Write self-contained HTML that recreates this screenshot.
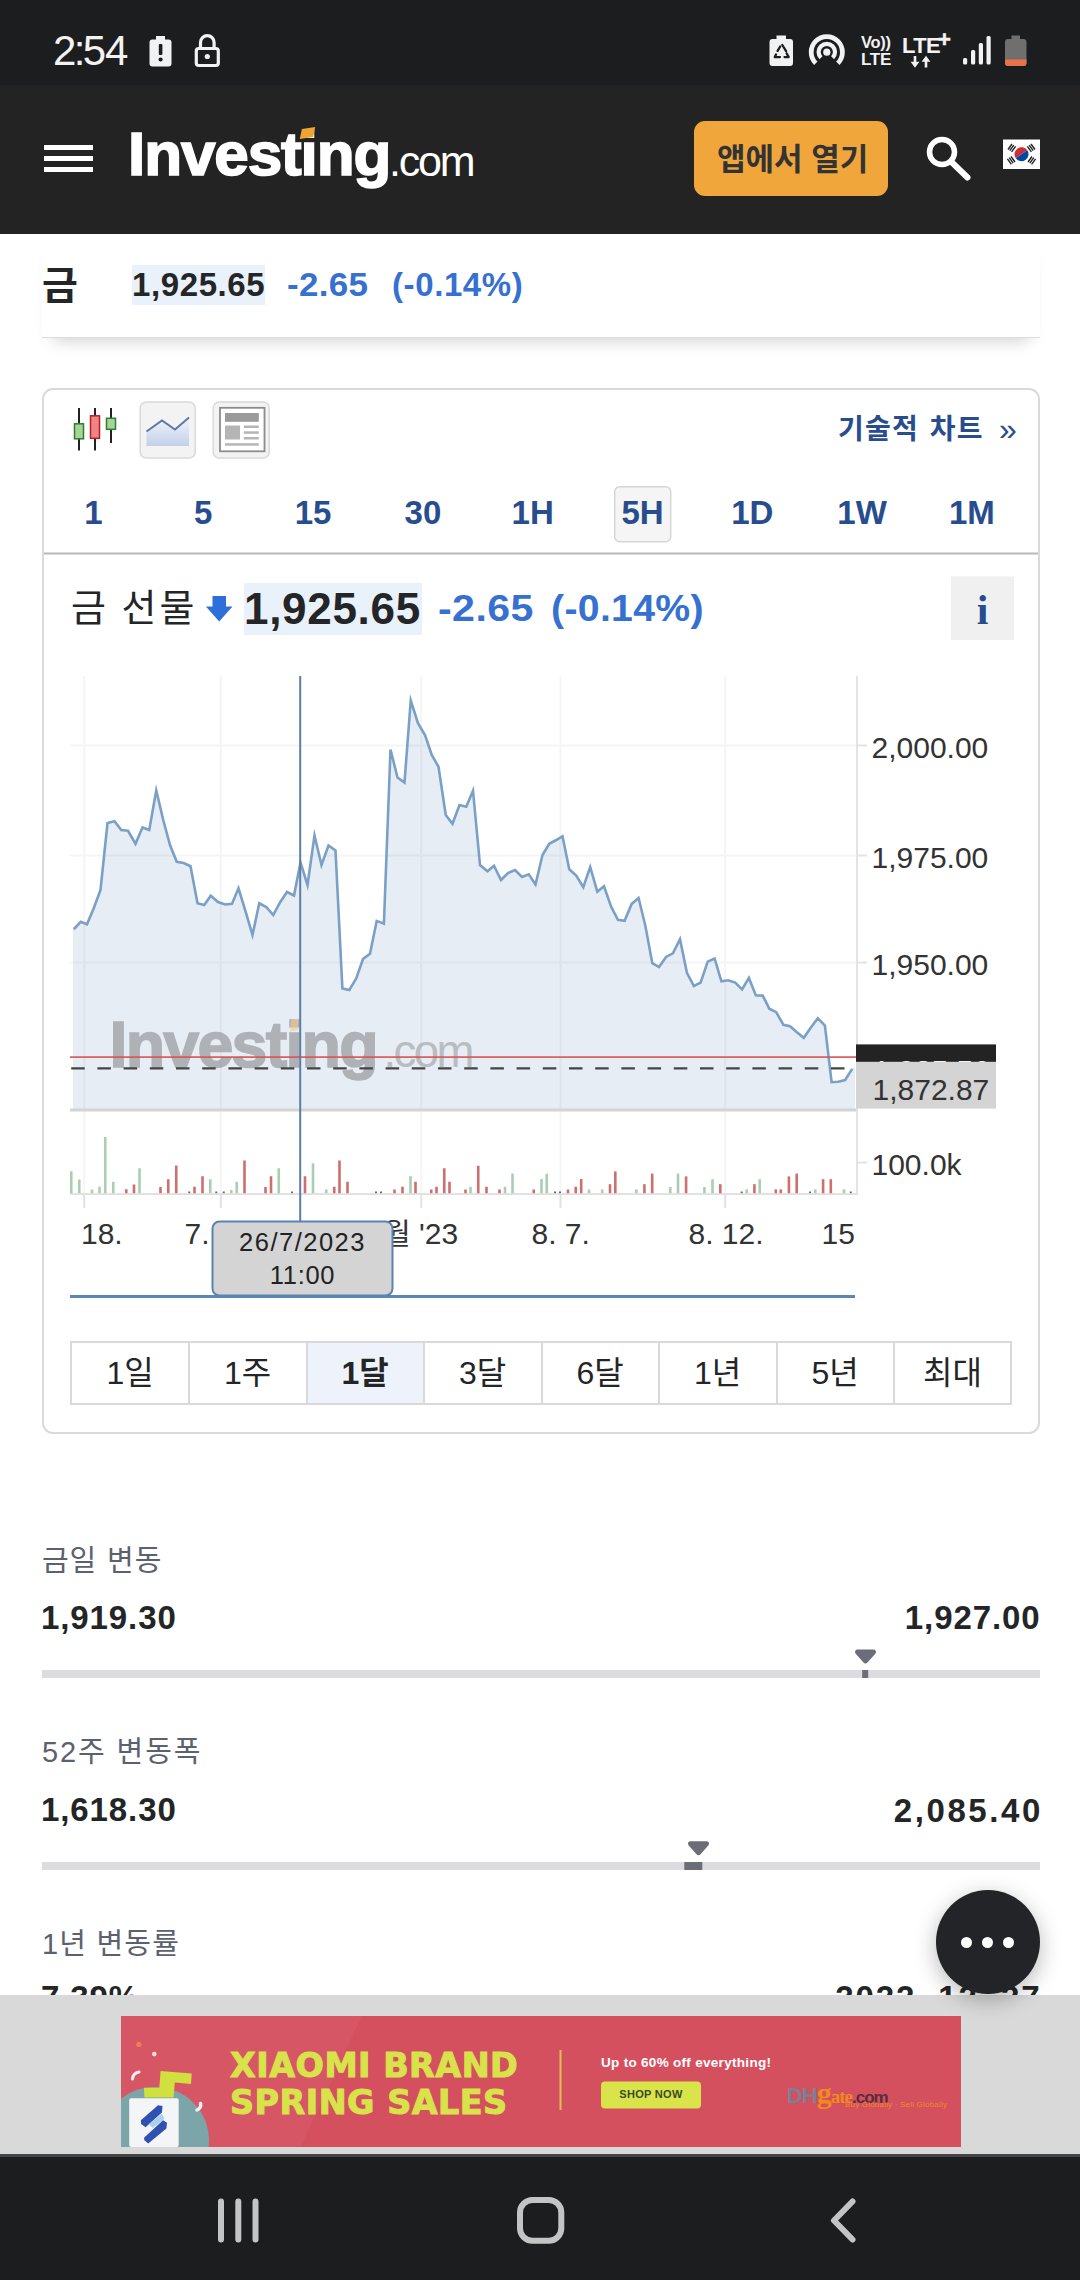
<!DOCTYPE html>
<html lang="ko">
<head>
<meta charset="utf-8">
<title>금 선물 - Investing.com</title>
<style>
*{box-sizing:border-box;margin:0;padding:0}
html,body{width:1080px;height:2280px;overflow:hidden;background:#fff}
body{position:relative;font-family:"Liberation Sans","Noto Sans CJK KR",sans-serif;color:#232526}
.abs{position:absolute}
.t{position:absolute;white-space:nowrap;line-height:1}
svg{position:absolute;left:0;top:0;overflow:visible}
#status{left:0;top:0;width:1080px;height:85px;background:#1c1d1f}
#header{left:0;top:85px;width:1080px;height:149px;background:#232323}
.bar{position:absolute;left:44px;width:49px;height:5px;background:#fff}
#openbtn{left:694px;top:121px;width:194px;height:75px;border-radius:11px;background:#f0a63b}
.blue{color:#3670d0}
.navy{color:#274d8f}
.b{font-weight:bold}
.tf{position:absolute;top:496px;width:80px;text-align:center;font-size:33px;font-weight:bold;color:#274d8f;line-height:1;white-space:nowrap}
.pd{position:absolute;top:1343px;height:60px;width:118px;text-align:center;font-size:32px;line-height:60px;color:#232526;white-space:nowrap}
.lbl{position:absolute;white-space:nowrap;line-height:1;font-size:29px;color:#5b616e;left:42px}
.val{position:absolute;white-space:nowrap;line-height:1;font-size:33px;font-weight:bold;color:#232526}
.rng{position:absolute;left:42px;width:998px;height:8px;background:#dcdcdf}
.cl{font-size:30px;fill:#333;font-family:"Liberation Sans","Noto Sans CJK KR",sans-serif}
</style>
</head>
<body>
<!-- STATUS BAR -->
<div id="status" class="abs"></div>
<div class="t" id="clock" style="left:53px;top:29.5px;font-size:42px;color:#f2f2f2;letter-spacing:-1px">2<span style="margin:0 -1.7px 0 -1.7px">:</span>54</div>
<svg width="1080" height="85" viewBox="0 0 1080 85">
  <!-- battery alert -->
  <path d="M156 36 h9 v3.5 h3.5 a3 3 0 0 1 3 3 v21 a3 3 0 0 1 -3 3 h-16 a3 3 0 0 1 -3 -3 v-21 a3 3 0 0 1 3 -3 h3.5 z" fill="#f2f2f2"/>
  <rect x="158.8" y="44" width="3.6" height="11" rx="1" fill="#1c1d1f"/>
  <circle cx="160.6" cy="59.5" r="2.1" fill="#1c1d1f"/>
  <!-- lock -->
  <path d="M200.5 48 v-5.5 a6.8 6.800 0 0 1 13.600 0 v5.5" fill="none" stroke="#f2f2f2" stroke-width="3.2"/>
  <rect x="196.300" y="48.500" width="22" height="17" rx="2.500" fill="none" stroke="#f2f2f2" stroke-width="3.200"/>
  <circle cx="207.300" cy="56.500" r="2.600" fill="#f2f2f2"/>
  <!-- battery recycle -->
  <path d="M776.500 35.500 h9.500 v3.500 h4 a3 3 0 0 1 3 3 v21 a3 3 0 0 1 -3 3 h-17.500 a3 3 0 0 1 -3 -3 v-21 a3 3 0 0 1 3 -3 h4 z" fill="#f2f2f2"/>
  <path d="M780.200 46.500 l-2.600 4.400 M782.300 45 l3.800 6.200 M776 54.500 l-1.200 2.600 h5.200 M784.500 57.100 h4.200 l-2 -3.600" fill="none" stroke="#1c1d1f" stroke-width="2.300" stroke-linejoin="round" stroke-linecap="round"/>
  <!-- hotspot -->
  <path d="M815.800 63.200 a15.600 15.600 0 1 1 22 0" fill="none" stroke="#f2f2f2" stroke-width="4.800"/>
  <path d="M821 57.800 a8.200 8.200 0 1 1 11.600 0" fill="none" stroke="#f2f2f2" stroke-width="4.200"/>
  <circle cx="826.800" cy="52.200" r="3.600" fill="#f2f2f2"/>
  <!-- signal -->
  <rect x="963" y="58" width="4.200" height="6.500" rx="1.500" fill="#f2f2f2"/>
  <rect x="971" y="50" width="4.200" height="14.500" rx="1.500" fill="#f2f2f2"/>
  <rect x="978.800" y="43" width="4.200" height="21.500" rx="1.500" fill="#f2f2f2"/>
  <rect x="986.500" y="36" width="4.200" height="28.500" rx="1.500" fill="#f2f2f2"/>
  <!-- battery -->
  <path d="M1011.500 35.500 h8.500 v3.500 h3.500 a3 3 0 0 1 3 3 v21 a3 3 0 0 1 -3 3 h-15.500 a3 3 0 0 1 -3 -3 v-21 a3 3 0 0 1 3 -3 h3.500 z" fill="#6f6f6f"/>
  <path d="M1005 59.500 h21.500 v3.500 a3 3 0 0 1 -3 3 h-15.500 a3 3 0 0 1 -3 -3 z" fill="#e8734a"/>
  <!-- LTE arrows -->
  <path d="M913.700 56 h2.600 v5.800 h3.100 l-4.400 5.900 l-4.400 -5.900 h3.100 z" fill="#f2f2f2"/>
  <path d="M924.700 67.500 h2.600 v-5.800 h3.100 l-4.400 -5.900 l-4.400 5.900 h3.100 z" fill="#f2f2f2"/>
</svg>
<div class="t b" style="left:861px;top:34px;font-size:16.500px;color:#f2f2f2;letter-spacing:-0.3px">Vo))</div>
<div class="t b" style="left:861px;top:51px;font-size:17px;color:#f2f2f2;letter-spacing:-0.3px">LTE</div>
<div class="t b" style="left:902px;top:35px;font-size:22px;color:#f2f2f2;letter-spacing:-0.6px">LTE</div>
<div class="t b" style="left:938px;top:29px;font-size:22px;color:#f2f2f2;-webkit-text-stroke:0.6px #f2f2f2">+</div>

<!-- HEADER -->
<div id="header" class="abs"></div>
<div class="bar" style="top:145px"></div>
<div class="bar" style="top:156px"></div>
<div class="bar" style="top:167px"></div>
<div class="t b" id="logo1" style="left:128px;top:123px;font-size:62px;color:#fff;letter-spacing:-1.1px;-webkit-text-stroke:1.7px #fff">Investing</div>
<div class="abs" style="left:301px;top:128px;width:13px;height:10px;background:#f0a533;transform:skewX(-12deg) skewY(-8deg)"></div>
<div class="t" id="logo2" style="left:389px;top:140px;font-size:43px;color:#fff;letter-spacing:-2.2px">.com</div>
<div class="abs" id="openbtn"></div>
<div class="t b" id="opentxt" style="left:717px;top:144px;font-size:31px;color:#333">앱에서 열기</div>
<svg width="1080" height="240" viewBox="0 0 1080 240">
  <circle cx="942" cy="152" r="12.500" fill="none" stroke="#fff" stroke-width="5.500"/>
  <path d="M951 161.500 L967.500 177.500" stroke="#fff" stroke-width="6" stroke-linecap="round"/>
  <!-- KR flag -->
  <rect x="1003" y="139.500" width="37" height="29.500" fill="#fff"/>
  <path d="M1014.500 154.200 a7 7 0 0 1 14 0 z" fill="#cd2e3a" transform="rotate(-34 1021.500 154.200)"/>
  <path d="M1014.500 154.200 a7 7 0 0 0 14 0 z" fill="#0047a0" transform="rotate(-34 1021.500 154.200)"/>
  <g stroke="#222" stroke-width="1.400">
    <path d="M1008 149.500 l4 -5.500 M1009.800 150.700 l4 -5.500 M1011.600 151.900 l4 -5.500"/>
    <path d="M1028 162 l4 -5.500 M1029.800 163.200 l4 -5.500 M1031.600 164.400 l4 -5.500"/>
    <path d="M1031 144 l4 5.500 M1029.200 145.200 l4 5.500 M1027.400 146.400 l4 5.500"/>
    <path d="M1011 156.500 l4 5.500 M1009.200 157.700 l4 5.500 M1007.400 158.900 l4 5.500"/>
  </g>
</svg>
<!-- INSTRUMENT ROW -->
<div class="abs" style="left:42px;top:234px;width:998px;height:104px;background:#fff;box-shadow:0 13px 16px -11px rgba(0,0,0,0.2);border-bottom:1.5px solid #dcdcdc"></div>
<div class="t b" id="gold" style="left:42px;top:266px;font-size:39px;color:#232526">금</div>
<div class="abs" style="left:132px;top:265px;width:133px;height:40px;background:#e9f1fb"></div>
<div class="t b" id="p1" style="left:132px;top:268px;font-size:33px;letter-spacing:0.6px">1,925.65</div>
<div class="t b blue" id="p2" style="left:287px;top:268px;font-size:33px;letter-spacing:0.3px;transform-origin:0 0;transform:scaleX(1.06)">-2.65</div>
<div class="t b blue" id="p3" style="left:392px;top:268px;font-size:33px;letter-spacing:0.6px">(-0.14%)</div>

<!-- CHART CARD -->
<div class="abs" id="card" style="left:42px;top:388px;width:998px;height:1046px;border:2px solid #dadada;border-radius:11px;background:#fff"></div>
<svg width="1080" height="700" viewBox="0 0 1080 700">
  <!-- candles icon -->
  <g stroke-width="1.500">
    <path d="M79 408 V450.500 M95 408 V450.500 M111 408 V443" stroke="#222" stroke-width="2" fill="none"/>
    <rect x="74.500" y="423.800" width="9" height="15" fill="#a5d696" stroke="#2f7d32"/>
    <rect x="90.500" y="415.800" width="9" height="22.500" fill="#f08383" stroke="#b32222"/>
    <rect x="106.500" y="418.300" width="9" height="11" fill="#a5d696" stroke="#2f7d32"/>
  </g>
  <!-- area icon btn -->
  <rect x="140.200" y="402" width="55" height="56" rx="6" fill="#f3f3f3" stroke="#d9d9d9" stroke-width="1.500"/>
  <defs><linearGradient id="ag" x1="0" y1="0" x2="0" y2="1"><stop offset="0" stop-color="#f1f4fb"/><stop offset="1" stop-color="#c3d0e8"/></linearGradient></defs>
  <path d="M146.500 431.500 L162 420.500 L175 429.500 L189 417.500 V446 H146.500 Z" fill="url(#ag)"/>
  <path d="M146.500 431.500 L162 420.500 L175 429.500 L189 417.500" fill="none" stroke="#5b7aa6" stroke-width="2"/>
  <!-- table icon btn -->
  <rect x="213.200" y="402" width="56" height="56" rx="6" fill="#f3f3f3" stroke="#d9d9d9" stroke-width="1.500"/>
  <rect x="220" y="407.800" width="44.500" height="43.500" fill="#fff" stroke="#8c8c8c" stroke-width="1.800"/>
  <rect x="225" y="413" width="33.800" height="8.800" fill="#9a9a9a"/>
  <rect x="225" y="425.500" width="15" height="14" fill="#b5b5b5"/>
  <rect x="243.800" y="425.500" width="15" height="2.500" fill="#b5b5b5"/>
  <rect x="243.800" y="431.300" width="15" height="2.500" fill="#b5b5b5"/>
  <rect x="243.800" y="437" width="15" height="2.500" fill="#b5b5b5"/>
  <rect x="225" y="443.200" width="33.800" height="2.500" fill="#b5b5b5"/>
  <!-- 5H selected box -->
  <rect x="614.700" y="486.700" width="56" height="55" rx="5" fill="#f5f5f5" stroke="#d6d6d6" stroke-width="1.500"/>
  <!-- separator -->
  <rect x="44" y="552.500" width="994" height="2" fill="#b9b9b9"/>
  <!-- info box -->
  <rect x="951" y="576.500" width="63" height="63.500" fill="#f0f0f0"/>
  <!-- down arrow -->
  <path d="M212.500 596 h13.500 v10.500 h6.500 l-13.300 15 l-13.300 -15 h6.600 z" fill="#2f6fd9"/>
</svg>
<div class="t b navy" id="tech" style="left:838px;top:416px;font-size:28px;letter-spacing:1.2px;word-spacing:2px">기술적 차트</div>
<div class="t navy" id="raquo" style="left:999px;top:413px;font-size:32px">»</div>
<div class="tf" style="left:53.500px">1</div>
<div class="tf" style="left:163.300px">5</div>
<div class="tf" style="left:273.100px">15</div>
<div class="tf" style="left:382.900px">30</div>
<div class="tf" style="left:492.700px">1H</div>
<div class="tf" style="left:602.500px">5H</div>
<div class="tf" style="left:712.300px">1D</div>
<div class="tf" style="left:822.100px">1W</div>
<div class="tf" style="left:931.900px">1M</div>

<div class="t" id="fut" style="left:71px;top:589px;font-size:38px;color:#232526;word-spacing:-1px;letter-spacing:3px">금 선물</div>
<div class="abs" style="left:244px;top:582.500px;width:177.500px;height:52.500px;background:#e9f1fb"></div>
<div class="t b" id="q1" style="left:244px;top:587px;font-size:44px;letter-spacing:0.7px">1,925.65</div>
<div class="t b blue" id="q2" style="left:438px;top:590px;font-size:37px;letter-spacing:0.4px;transform-origin:0 0;transform:scaleX(1.11)">-2.65</div>
<div class="t b blue" id="q3" style="left:551px;top:590px;font-size:37px;letter-spacing:0.3px;transform-origin:0 0;transform:scaleX(1.06)">(-0.14%)</div>
<div class="t b navy" id="info" style="left:951px;width:63px;text-align:center;top:589px;font-size:42px;font-family:'Liberation Serif','Noto Serif CJK KR',serif">i</div>
<!-- CHART -->
<svg width="1080" height="1320" viewBox="0 0 1080 1320">
<g fill="#f5f5f5">
<rect x="83.25" y="676" width="2" height="518"/>
<rect x="219.75" y="676" width="2" height="518"/>
<rect x="420.25" y="676" width="2" height="518"/>
<rect x="559.5" y="676" width="2" height="518"/>
<rect x="724.2" y="676" width="2" height="518"/>
<rect x="70" y="744.5" width="786" height="2"/>
<rect x="70" y="854.5" width="786" height="2"/>
<rect x="70" y="961.6" width="786" height="2"/>
</g>
<path d="M73,1109 L73,929.25 L73.75,929.25 L80.75,921.75 L87,924.25 L93.75,908.25 L100.5,890 L107.5,823 L114.5,821.25 L121.25,830 L128,830.75 L135.5,843.75 L142.5,827.5 L149.25,830 L156.25,790.5 L163.25,820 L170,845 L176.75,861.75 L183.75,863 L190.5,866.25 L197.5,903.25 L204.25,905 L210.75,895.75 L218,902 L225,904.5 L232,903.75 L238.5,888.25 L245.5,911.25 L252.5,935 L259.25,903.25 L266.25,907 L273.25,915 L280,902.5 L287,892 L294,895.5 L300.5,862.5 L307.5,885 L314.5,835.5 L321.5,865 L328.5,845.5 L335.5,850.5 L342.4,988.5 L349.3,990 L356.3,978.3 L363.1,958.9 L370,953.7 L376.7,920.9 L383.9,923.7 L390.5,749.5 L397.5,777.5 L404.5,782.5 L410.75,700.5 L418,723.25 L425,735 L431.75,755 L438.5,766.75 L445.75,815 L452.5,823.75 L459.5,805 L466.25,806.75 L473,790.75 L480,865 L487.5,871.25 L494,865.75 L501,880 L508,873 L515,870 L522,877 L528.75,874.25 L535.5,884.5 L542.5,855 L549.25,843.75 L556.25,840 L562.5,836.25 L569.25,869.25 L576.25,875.5 L583.3,887.1 L590.2,867 L597.3,891.7 L604,886.2 L611.1,906.6 L617.9,919.8 L624.6,920.8 L631.7,903.9 L638.6,898 L645.4,925.9 L652.3,963.2 L659,967.1 L666.1,956.9 L672.9,953.4 L680,939.2 L686.9,972.8 L693.9,986 L700.6,982.6 L707.7,961.6 L714.6,958.5 L721.4,981.3 L728.3,980.3 L735.2,982.6 L742.1,989.5 L748.9,977.9 L755.8,995.2 L762.7,995.6 L769.3,1008.7 L776.2,1012.2 L783.4,1024.8 L790,1026.2 L796.9,1032.2 L803.8,1037.8 L810.7,1027.8 L817.8,1018.2 L824.9,1025.6 L831.6,1082.2 L838.2,1081.8 L845.1,1080 L852.2,1068.9 L855,1066 L855,1109 Z" fill="rgb(88,135,188)" fill-opacity="0.15"/>
<g fill="#dfe7f0" opacity="0.6">
</g>
<polyline points="73.75,929.25 80.75,921.75 87,924.25 93.75,908.25 100.5,890 107.5,823 114.5,821.25 121.25,830 128,830.75 135.5,843.75 142.5,827.5 149.25,830 156.25,790.5 163.25,820 170,845 176.75,861.75 183.75,863 190.5,866.25 197.5,903.25 204.25,905 210.75,895.75 218,902 225,904.5 232,903.75 238.5,888.25 245.5,911.25 252.5,935 259.25,903.25 266.25,907 273.25,915 280,902.5 287,892 294,895.5 300.5,862.5 307.5,885 314.5,835.5 321.5,865 328.5,845.5 335.5,850.5 342.4,988.5 349.3,990 356.3,978.3 363.1,958.9 370,953.7 376.7,920.9 383.9,923.7 390.5,749.5 397.5,777.5 404.5,782.5 410.75,700.5 418,723.25 425,735 431.75,755 438.5,766.75 445.75,815 452.5,823.75 459.5,805 466.25,806.75 473,790.75 480,865 487.5,871.25 494,865.75 501,880 508,873 515,870 522,877 528.75,874.25 535.5,884.5 542.5,855 549.25,843.75 556.25,840 562.5,836.25 569.25,869.25 576.25,875.5 583.3,887.1 590.2,867 597.3,891.7 604,886.2 611.1,906.6 617.9,919.8 624.6,920.8 631.7,903.9 638.6,898 645.4,925.9 652.3,963.2 659,967.1 666.1,956.9 672.9,953.4 680,939.2 686.9,972.8 693.9,986 700.6,982.6 707.7,961.6 714.6,958.5 721.4,981.3 728.3,980.3 735.2,982.6 742.1,989.5 748.9,977.9 755.8,995.2 762.7,995.6 769.3,1008.7 776.2,1012.2 783.4,1024.8 790,1026.2 796.9,1032.2 803.8,1037.8 810.7,1027.8 817.8,1018.2 824.9,1025.6 831.6,1082.2 838.2,1081.8 845.1,1080 852.2,1068.9" fill="none" stroke="#7ba0c6" stroke-width="2.6" stroke-linejoin="miter" stroke-miterlimit="6"/>
<g opacity="0.5" fill="#787878" stroke="#787878" font-family="'Liberation Sans',sans-serif">
<text x="109.5" y="1067.4" font-size="64.5" font-weight="bold" letter-spacing="-1.75" stroke-width="1.6">Investing</text>
<text x="383.5" y="1067.4" font-size="45.6" letter-spacing="-2.6" stroke-width="0" opacity="0.8">.com</text>
</g>
<path d="M291 1020 L298.5 1018.5 L298 1030 L290 1031.5 Z" fill="#f3c98c" opacity="0.6"/>
<rect x="70" y="1056.3" width="786" height="1.6" fill="#d9534f"/>
<path d="M71.2 1068.4 H856" stroke="#444" stroke-width="2.4" stroke-dasharray="13.5 12.7"/>
<rect x="70" y="1108.5" width="787" height="3" fill="#d4d4d4"/>
<rect x="856" y="676" width="2" height="518" fill="#e3e3e3"/>
<rect x="858" y="744.5" width="9" height="2" fill="#e3e3e3"/>
<rect x="858" y="854.5" width="9" height="2" fill="#e3e3e3"/>
<rect x="858" y="961.6" width="9" height="2" fill="#e3e3e3"/>
<rect x="858" y="1161.5" width="9" height="2" fill="#e3e3e3"/>
<rect x="70" y="1193" width="788" height="2" fill="#e2e2e2"/>
<rect x="83.25" y="1194" width="2" height="14" fill="#e2e2e2"/>
<rect x="219.75" y="1194" width="2" height="14" fill="#e2e2e2"/>
<rect x="420.25" y="1194" width="2" height="14" fill="#e2e2e2"/>
<rect x="559.5" y="1194" width="2" height="14" fill="#e2e2e2"/>
<rect x="724.2" y="1194" width="2" height="14" fill="#e2e2e2"/>
<rect x="69.95" y="1171.25" width="2.6" height="21.95" fill="#a9cfb0"/>
<rect x="77.95" y="1179.5" width="2.6" height="13.7" fill="#a9cfb0"/>
<rect x="90.7" y="1189.5" width="2.6" height="3.7" fill="#a9cfb0"/>
<rect x="98.2" y="1186.75" width="2.6" height="6.45" fill="#a9cfb0"/>
<rect x="103.95" y="1137" width="2.6" height="56.2" fill="#a9cfb0"/>
<rect x="111.95" y="1181.75" width="2.6" height="11.45" fill="#a9cfb0"/>
<rect x="124.95" y="1189.25" width="2.6" height="3.95" fill="#cf6e6e"/>
<rect x="132.7" y="1184.5" width="2.6" height="8.7" fill="#cf6e6e"/>
<rect x="138.2" y="1168.25" width="2.6" height="24.95" fill="#a9cfb0"/>
<rect x="159.2" y="1187" width="2.6" height="6.2" fill="#cf6e6e"/>
<rect x="166.95" y="1179.25" width="2.6" height="13.95" fill="#cf6e6e"/>
<rect x="174.95" y="1165.5" width="2.6" height="27.7" fill="#cf6e6e"/>
<rect x="188.25" y="1191.5" width="2" height="1.6" fill="#666"/>
<rect x="193.2" y="1186.75" width="2.6" height="6.45" fill="#cf6e6e"/>
<rect x="201.2" y="1176.25" width="2.6" height="16.95" fill="#cf6e6e"/>
<rect x="208.95" y="1179.25" width="2.6" height="13.95" fill="#a9cfb0"/>
<rect x="215.25" y="1191.5" width="2" height="1.6" fill="#666"/>
<rect x="222.75" y="1191.5" width="2" height="1.6" fill="#666"/>
<rect x="229.95" y="1190" width="2.6" height="3.2" fill="#a9cfb0"/>
<rect x="235.45" y="1181.75" width="2.6" height="11.45" fill="#a9cfb0"/>
<rect x="243.2" y="1160.5" width="2.6" height="32.7" fill="#cf6e6e"/>
<rect x="264.2" y="1187" width="2.6" height="6.2" fill="#cf6e6e"/>
<rect x="269.7" y="1176.25" width="2.6" height="16.95" fill="#cf6e6e"/>
<rect x="277.45" y="1168.25" width="2.6" height="24.95" fill="#a9cfb0"/>
<rect x="291" y="1191.5" width="2" height="1.6" fill="#666"/>
<rect x="303.7" y="1176.25" width="2.6" height="16.95" fill="#cf6e6e"/>
<rect x="311.7" y="1163.25" width="2.6" height="29.95" fill="#a9cfb0"/>
<rect x="324.95" y="1189.5" width="2.6" height="3.7" fill="#a9cfb0"/>
<rect x="332.95" y="1186.75" width="2.6" height="6.45" fill="#cf6e6e"/>
<rect x="338.2" y="1160.5" width="2.6" height="32.7" fill="#cf6e6e"/>
<rect x="346.2" y="1181.75" width="2.6" height="11.45" fill="#cf6e6e"/>
<rect x="375" y="1191.5" width="2" height="1.6" fill="#666"/>
<rect x="380" y="1191.5" width="2" height="1.6" fill="#666"/>
<rect x="393.2" y="1189.5" width="2.6" height="3.7" fill="#cf6e6e"/>
<rect x="401.2" y="1186.75" width="2.6" height="6.45" fill="#cf6e6e"/>
<rect x="409.2" y="1176.25" width="2.6" height="16.95" fill="#a9cfb0"/>
<rect x="414.2" y="1181.75" width="2.6" height="11.45" fill="#cf6e6e"/>
<rect x="429.95" y="1189.5" width="2.6" height="3.7" fill="#cf6e6e"/>
<rect x="435.2" y="1186.75" width="2.6" height="6.45" fill="#cf6e6e"/>
<rect x="442.95" y="1168.25" width="2.6" height="24.95" fill="#cf6e6e"/>
<rect x="448.2" y="1181.75" width="2.6" height="11.45" fill="#cf6e6e"/>
<rect x="464.2" y="1189.5" width="2.6" height="3.7" fill="#cf6e6e"/>
<rect x="469.2" y="1186.75" width="2.6" height="6.45" fill="#a9cfb0"/>
<rect x="476.95" y="1165.75" width="2.6" height="27.45" fill="#cf6e6e"/>
<rect x="485.2" y="1186.75" width="2.6" height="6.45" fill="#cf6e6e"/>
<rect x="498.2" y="1189.5" width="2.6" height="3.7" fill="#cf6e6e"/>
<rect x="503.7" y="1186.75" width="2.6" height="6.45" fill="#a9cfb0"/>
<rect x="511.2" y="1173.5" width="2.6" height="19.7" fill="#a9cfb0"/>
<rect x="532.45" y="1189.5" width="2.6" height="3.7" fill="#cf6e6e"/>
<rect x="540.2" y="1179" width="2.6" height="14.2" fill="#a9cfb0"/>
<rect x="545.45" y="1173.75" width="2.6" height="19.45" fill="#a9cfb0"/>
<rect x="554" y="1191.5" width="2" height="1.6" fill="#666"/>
<rect x="559" y="1191.5" width="2" height="1.6" fill="#666"/>
<rect x="566.7" y="1189.5" width="2.6" height="3.7" fill="#cf6e6e"/>
<rect x="574.45" y="1186.75" width="2.6" height="6.45" fill="#cf6e6e"/>
<rect x="579.9" y="1179" width="2.6" height="14.2" fill="#cf6e6e"/>
<rect x="587.7" y="1189.5" width="2.6" height="3.7" fill="#a9cfb0"/>
<rect x="600.9" y="1189.4" width="2.6" height="3.8" fill="#a9cfb0"/>
<rect x="608.7" y="1184.2" width="2.6" height="9" fill="#cf6e6e"/>
<rect x="614" y="1171.4" width="2.6" height="21.8" fill="#cf6e6e"/>
<rect x="635.1" y="1189.4" width="2.6" height="3.8" fill="#a9cfb0"/>
<rect x="643.1" y="1184.2" width="2.6" height="9" fill="#cf6e6e"/>
<rect x="650.9" y="1173.6" width="2.6" height="19.6" fill="#cf6e6e"/>
<rect x="669" y="1187" width="2.6" height="6.2" fill="#a9cfb0"/>
<rect x="676.7" y="1173.6" width="2.6" height="19.6" fill="#a9cfb0"/>
<rect x="684.8" y="1176.4" width="2.6" height="16.8" fill="#cf6e6e"/>
<rect x="703.1" y="1187" width="2.6" height="6.2" fill="#a9cfb0"/>
<rect x="711.2" y="1179.2" width="2.6" height="14" fill="#a9cfb0"/>
<rect x="719" y="1184.2" width="2.6" height="9" fill="#cf6e6e"/>
<rect x="740.7" y="1191.5" width="2" height="1.6" fill="#666"/>
<rect x="745.4" y="1189.4" width="2.6" height="3.8" fill="#a9cfb0"/>
<rect x="753.1" y="1184.2" width="2.6" height="9" fill="#cf6e6e"/>
<rect x="758.4" y="1179.2" width="2.6" height="14" fill="#a9cfb0"/>
<rect x="774.5" y="1189.4" width="2.6" height="3.8" fill="#cf6e6e"/>
<rect x="779.5" y="1189.4" width="2.6" height="3.8" fill="#cf6e6e"/>
<rect x="787.6" y="1176.4" width="2.6" height="16.8" fill="#cf6e6e"/>
<rect x="795.4" y="1173.6" width="2.6" height="19.6" fill="#cf6e6e"/>
<rect x="809" y="1191.5" width="2" height="1.6" fill="#666"/>
<rect x="814" y="1189.4" width="2.6" height="3.8" fill="#a9cfb0"/>
<rect x="821.8" y="1179.2" width="2.6" height="14" fill="#cf6e6e"/>
<rect x="829.5" y="1179.2" width="2.6" height="14" fill="#cf6e6e"/>
<rect x="842.7" y="1189.4" width="2.6" height="3.8" fill="#a9cfb0"/>
<rect x="849.8" y="1191.5" width="2" height="1.6" fill="#666"/>
<rect x="299.2" y="676" width="2" height="546" fill="#5a7ea8"/>
<text class="cl" x="871.5" y="757.5">2,000.00</text>
<text class="cl" x="871.5" y="867.5">1,975.00</text>
<text class="cl" x="871.5" y="974.5">1,950.00</text>
<text class="cl" x="871.5" y="1175">100.0k</text>
<rect x="856" y="1044.4" width="140" height="46" fill="#232323"/>
<text class="cl" x="873" y="1081" style="fill:#fff">1,925.56</text>
<rect x="856" y="1061.8" width="140" height="46.800" fill="#d4d4d4"/>
<text class="cl" x="872.5" y="1100.3">1,872.87</text>
<text class="cl" x="81" y="1244">18.</text>
<text class="cl" x="184.500" y="1244">7.</text>
<text class="cl" x="366.5" y="1244">8월 '23</text>
<text class="cl" x="531.500" y="1244">8. 7.</text>
<text class="cl" x="688.500" y="1244">8. 12.</text>
<text class="cl" x="821.5" y="1244">15</text>
<rect x="70" y="1295" width="785" height="3" fill="#5b87b5"/>
<rect x="212.500" y="1221.500" width="180" height="74" rx="7" fill="#d4d4d4" stroke="#5b82b0" stroke-width="2"/>
<text x="302.500" y="1250.500" text-anchor="middle" font-size="25.500" letter-spacing="1.5" fill="#222" font-family="'Liberation Sans',sans-serif">26/7/2023</text>
<text x="302.500" y="1284" text-anchor="middle" font-size="25.500" letter-spacing="0.7" fill="#222" font-family="'Liberation Sans',sans-serif">11:00</text>
</svg>
<!-- PERIOD BUTTONS -->
<div class="abs" style="left:70px;top:1341px;width:942px;height:64px;border:2px solid #d9d9d9;background:#fff"></div>
<div class="abs" style="left:307.500px;top:1343px;width:116px;height:60px;background:#eef3fb"></div>
<div class="abs" style="left:188px;top:1343px;width:2px;height:60px;background:#d9d9d9"></div>
<div class="abs" style="left:305.500px;top:1343px;width:2px;height:60px;background:#d9d9d9"></div>
<div class="abs" style="left:423px;top:1343px;width:2px;height:60px;background:#d9d9d9"></div>
<div class="abs" style="left:540.500px;top:1343px;width:2px;height:60px;background:#d9d9d9"></div>
<div class="abs" style="left:658px;top:1343px;width:2px;height:60px;background:#d9d9d9"></div>
<div class="abs" style="left:775.500px;top:1343px;width:2px;height:60px;background:#d9d9d9"></div>
<div class="abs" style="left:893px;top:1343px;width:2px;height:60px;background:#d9d9d9"></div>
<div class="pd" style="left:71px">1일</div>
<div class="pd" style="left:188.500px">1주</div>
<div class="pd b" style="left:306px">1달</div>
<div class="pd" style="left:423.500px">3달</div>
<div class="pd" style="left:541px">6달</div>
<div class="pd" style="left:658.500px">1년</div>
<div class="pd" style="left:776px">5년</div>
<div class="pd" style="left:893.500px">최대</div>

<!-- RANGES -->
<div class="lbl" id="l1" style="top:1546.5px;letter-spacing:0.9px;word-spacing:1px">금일 변동</div>
<div class="val" id="v1" style="left:41px;top:1600.5px;letter-spacing:0.9px">1,919.30</div>
<div class="val" id="v2" style="right:39.5px;top:1600.5px;letter-spacing:0.9px">1,927.00</div>
<div class="rng" style="top:1670px"></div>
<div class="lbl" id="l2" style="top:1738px;letter-spacing:1.9px">52주 변동폭</div>
<div class="val" id="v3" style="left:41px;top:1793px;letter-spacing:0.9px">1,618.30</div>
<div class="val" id="v4" style="right:37px;top:1793.5px;letter-spacing:2.6px">2,085.40</div>
<div class="rng" style="top:1862px"></div>
<div class="lbl" id="l3" style="top:1929.5px;letter-spacing:1.2px">1년 변동률</div>
<div class="val" id="v5" style="left:41px;top:1981px;letter-spacing:0.9px">7.39%</div>
<div class="val" id="v6" style="right:38.5px;top:1981px;letter-spacing:1.9px">2022. 12. 27</div>
<svg width="1080" height="2280" viewBox="0 0 1080 2280">
  <path d="M857.500 1649.500 h16 a2.500 2.500 0 0 1 2 4 l-8 9 a2.500 2.500 0 0 1 -4 0 l-8 -9 a2.500 2.500 0 0 1 2 -4 z" fill="#6b6e78"/>
  <rect x="862.200" y="1670" width="6" height="8" fill="#6b6e78"/>
  <path d="M690.500 1841.200 h16 a2.500 2.500 0 0 1 2 4 l-8 9 a2.500 2.500 0 0 1 -4 0 l-8 -9 a2.500 2.500 0 0 1 2 -4 z" fill="#6b6e78"/>
  <rect x="684.300" y="1862" width="18" height="8" fill="#6b6e78"/>
</svg>

<!-- AD BANNER -->
<div class="abs" style="left:0;top:1995px;width:1080px;height:159px;background:#d9d9d9"></div>
<div class="abs" id="ad" style="left:121px;top:2016px;width:840px;height:131px;background:#d5505f;overflow:hidden">
  <div class="abs" style="left:0;top:0;width:340px;height:131px;background:linear-gradient(115deg,rgba(255,255,255,0.035) 0,rgba(255,255,255,0.035) 60%,rgba(255,255,255,0) 60%)"></div>
  <div class="abs" style="left:-19.800px;top:70.500px;width:107.600px;height:107.600px;border-radius:50%;background:#7ba5a8"></div>
</div>
<svg width="1080" height="2280" viewBox="0 0 1080 2280">
  <path d="M160.600 2070.900 L191.700 2073.500 L191 2083.900 L174.800 2082.600 L173.500 2097.500 L144.400 2097.500 L144 2087.800 L159.300 2087.800 Z" fill="#cfe03f"/>
  <rect x="129.200" y="2098.200" width="49.500" height="48.800" rx="2" fill="#f4f5f7"/>
  <path d="M140.900 2120.200 L158 2105.300 L162.500 2105.900 L161.900 2112.400 L145.600 2127.300 L141.100 2124.100 Z" fill="#3050b2"/>
  <path d="M148.900 2124.100 L161.900 2113.700 L164.400 2118.900 L152.800 2128 Z" fill="#a9d0ee"/>
  <path d="M144 2137.700 L163.100 2120.200 L167 2122.800 L166.400 2128.600 L148.200 2143.500 L144.400 2140.300 Z" fill="#3050b2"/>
  <circle cx="138.800" cy="2044.400" r="2.600" fill="#e8824c"/><circle cx="154.300" cy="2054.100" r="2.300" fill="#f6dada"/>
  <path d="M132.500 2079 q0.500 -6 6.500 -7" stroke="#f5eeee" stroke-width="3" fill="none" stroke-linecap="round"/>
  <path d="M197 2110 q4.500 -2 3.500 -6.500" stroke="#f5eeee" stroke-width="3.500" fill="none" stroke-linecap="round"/>
  <rect x="559.500" y="2050" width="2" height="60" fill="#d9c34a"/>
  <rect x="601" y="2081.500" width="100" height="27" rx="4" fill="#d8e449"/>
</svg>
<div class="t b" style="left:230px;top:2048.5px;font-size:33.4px;color:#d8e24a;letter-spacing:0.5px;font-family:'DejaVu Sans','Liberation Sans',sans-serif;-webkit-text-stroke:1px #d8e24a" id="ad1">XIAOMI BRAND</div>
<div class="t b" style="left:230px;top:2085.5px;font-size:33.4px;color:#d8e24a;letter-spacing:0.5px;font-family:'DejaVu Sans','Liberation Sans',sans-serif;-webkit-text-stroke:1px #d8e24a" id="ad2">SPRING SALES</div>
<div class="t b" style="left:601px;top:2056px;font-size:13.500px;color:#fff;letter-spacing:0.300px" id="ad3">Up to 60% off everything!</div>
<div class="t b" style="left:601px;width:100px;text-align:center;top:2089px;font-size:11px;color:#3a4a2a;letter-spacing:0.300px" id="ad4">SHOP NOW</div>
<div class="t b" style="left:787px;top:2078px;font-size:22px;color:#7d7f93;letter-spacing:-1px" id="ad5">DH<span style="color:#f08a1d;font-family:'Liberation Serif','Noto Serif CJK KR',serif;font-size:30px">g</span><span style="color:#f08a1d;font-family:'Liberation Serif','Noto Serif CJK KR',serif;font-size:19px">ate</span><span style="color:#5a2d3a;font-size:17px">.com</span></div>
<div class="t" style="left:845px;top:2101px;font-size:8px;color:#f08a1d;letter-spacing:0.200px" id="ad6">Buy Globally · Sell Globally</div>

<!-- FAB -->
<div class="abs" style="left:935.500px;top:1890px;width:104px;height:104px;border-radius:50%;background:#232427;box-shadow:0 6px 22px rgba(0,0,0,0.28)"></div>
<div class="abs" style="left:961px;top:1936.500px;width:11px;height:11px;border-radius:50%;background:#fff"></div>
<div class="abs" style="left:982px;top:1936.500px;width:11px;height:11px;border-radius:50%;background:#fff"></div>
<div class="abs" style="left:1003px;top:1936.500px;width:11px;height:11px;border-radius:50%;background:#fff"></div>

<!-- NAV BAR -->
<div class="abs" style="left:0;top:2154px;width:1080px;height:126px;background:#1c1d1f"></div>
<div class="abs" style="left:0;top:2153.500px;width:1080px;height:3px;background:#434547"></div>
<svg width="1080" height="2280" viewBox="0 0 1080 2280">
  <g stroke="#c4c4c4" stroke-width="6" stroke-linecap="round" fill="none">
    <path d="M221 2201.500 V2239.500 M238.300 2201.500 V2239.500 M255.500 2201.500 V2239.500"/>
    <path d="M852.500 2201.500 L834 2220.500 L852.500 2239.500" stroke-linejoin="round"/>
    <rect x="520" y="2200" width="41.300" height="40.800" rx="12.500"/>
  </g>
</svg>
</body>
</html>
